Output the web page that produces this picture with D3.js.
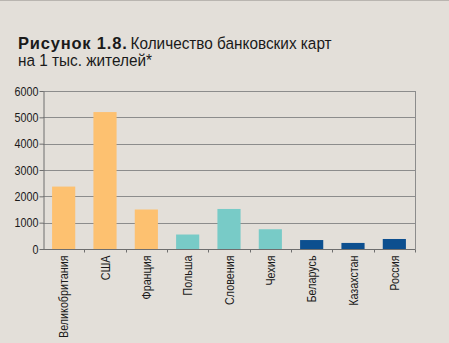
<!DOCTYPE html>
<html>
<head>
<meta charset="utf-8">
<script src="https://cdn.jsdelivr.net/npm/d3@7"></script>
<style>
  html, body { margin: 0; padding: 0; background: #e3dfd9; }
  svg { display: block; }
</style>
</head>
<body>
<svg id="chart" width="449" height="343"></svg>
<script>
// Bank cards per 1,000 inhabitants, by country
const categories = ["Великобритания", "США", "Франция", "Польша", "Словения", "Чехия", "Беларусь", "Казахстан", "Россия"];
const values = [2370, 5200, 1500, 550, 1520, 750, 340, 230, 380];
const groups = ["west", "west", "west", "east", "east", "east", "cis", "cis", "cis"];
const yTicks = [0, 1000, 2000, 3000, 4000, 5000, 6000];

const groupColor = { west: "#fdc170", east: "#78cbc7", cis: "#0c4f8f" };
const font = "'Liberation Sans', Arial, sans-serif";
const squeeze = 0.86; // condensed look for axis text
const titleSqueeze = 0.93;

const svg = d3.select("#chart");
const W = 449, H = 343;
const margin = { left: 43, right: 34, top: 91, bottom: 94 };
const innerW = W - margin.left - margin.right;
const innerH = H - margin.top - margin.bottom;

// thin rule along the top edge
svg.append("line").attr("x1", 0).attr("x2", W).attr("y1", 0.5).attr("y2", 0.5)
  .attr("stroke", "#b9b5b0").attr("stroke-width", 1);

// title: bold figure number, then the caption in regular weight
const lead = svg.append("text").attr("x", 18).attr("y", 49)
  .attr("font-family", font).attr("font-size", 16.5).attr("font-weight", "bold")
  .attr("letter-spacing", 0.8).attr("fill", "#1a1a1a")
  .text("Рисунок 1.8.");
const leadW = lead.node().getComputedTextLength();
svg.append("text")
  .attr("transform", `translate(${18 + leadW + 3},49) scale(${titleSqueeze},1)`)
  .attr("font-family", font).attr("font-size", 16.5).attr("fill", "#1a1a1a")
  .text("Количество банковских карт");
svg.append("text")
  .attr("transform", `translate(18,65.5) scale(${titleSqueeze},1)`)
  .attr("font-family", font).attr("font-size", 16.5).attr("fill", "#1a1a1a")
  .text("на 1 тыс. жителей*");

const g = svg.append("g").attr("transform", `translate(${margin.left},${margin.top})`);

const x = d3.scaleBand().domain(categories).range([0, innerW]).paddingInner(0.44).paddingOuter(0.22);
const y = d3.scaleLinear().domain([0, 6000]).range([innerH, 0]);

// gridlines
g.append("g").selectAll("line").data(yTicks.filter(d => d > 0)).join("line")
  .attr("x1", 0).attr("x2", innerW)
  .attr("y1", d => Math.round(y(d)) + 0.5).attr("y2", d => Math.round(y(d)) + 0.5)
  .attr("stroke", "#8c8c8c").attr("stroke-width", 1);

// right frame edge
g.append("line").attr("x1", innerW + 0.5).attr("x2", innerW + 0.5)
  .attr("y1", 0).attr("y2", innerH).attr("stroke", "#8c8c8c");

// bars
g.append("g").selectAll("rect").data(categories).join("rect")
  .attr("x", d => x(d))
  .attr("width", x.bandwidth())
  .attr("y", (d, i) => y(values[i]))
  .attr("height", (d, i) => innerH - y(values[i]))
  .attr("fill", (d, i) => groupColor[groups[i]]);

// y axis
const yAxis = g.append("g").attr("transform", "translate(0.5,0)")
  .call(d3.axisLeft(y).tickValues(yTicks).tickFormat(d3.format("d")).tickSize(4).tickSizeOuter(0));
yAxis.select(".domain").attr("stroke", "#6e6e6e");
yAxis.selectAll(".tick line").attr("stroke", "#6e6e6e");
yAxis.selectAll(".tick text")
  .attr("font-family", font).attr("font-size", 12.5).attr("fill", "#1a1a1a")
  .attr("x", null)
  .attr("transform", `translate(-5,0) scale(${squeeze},1)`);

// x axis: ticks fall between categories
const xAxis = g.append("g").attr("transform", `translate(0,${innerH + 0.5})`);
xAxis.append("line").attr("x1", 0).attr("x2", innerW + 0.5).attr("stroke", "#6e6e6e");
const bounds = d3.range(1, categories.length + 1).map(i => i * innerW / categories.length);
xAxis.selectAll(".sep").data(bounds).join("line")
  .attr("class", "sep")
  .attr("x1", d => Math.round(d) + 0.5).attr("x2", d => Math.round(d) + 0.5)
  .attr("y1", 0).attr("y2", 3).attr("stroke", "#6e6e6e");

xAxis.selectAll(".lbl").data(categories).join("text")
  .attr("class", "lbl")
  .attr("transform", d => `translate(${x(d) + x.bandwidth() / 2 + 4.5},6) rotate(-90) scale(${squeeze},1)`)
  .attr("text-anchor", "end")
  .attr("font-family", font).attr("font-size", 12.5).attr("fill", "#1a1a1a")
  .text(d => d);
</script>
</body>
</html>
